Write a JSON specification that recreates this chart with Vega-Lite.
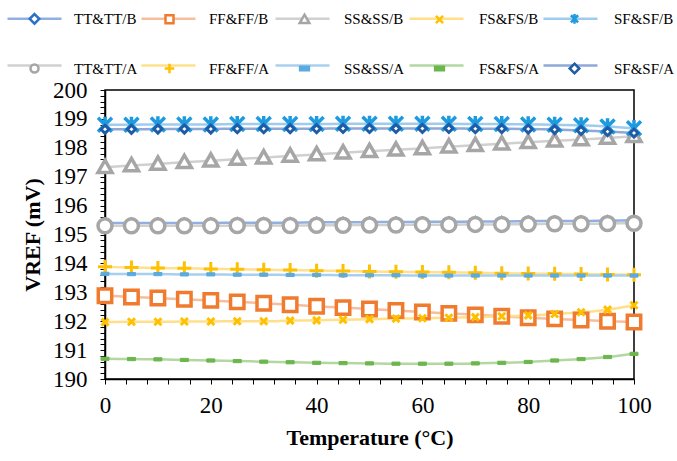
{
  "$schema": "https://vega.github.io/schema/vega-lite/v6.json",
  "width": 529,
  "height": 289,
  "autosize": {"type": "none"},
  "padding": {"left": 105, "top": 90, "right": 43, "bottom": 82},
  "background": "white",
  "data": {"values": [
    {"s":"TT&TT/B","t":0,"v":195.40},{"s":"TT&TT/B","t":5,"v":195.40},{"s":"TT&TT/B","t":10,"v":195.40},{"s":"TT&TT/B","t":15,"v":195.40},{"s":"TT&TT/B","t":20,"v":195.40},{"s":"TT&TT/B","t":25,"v":195.41},{"s":"TT&TT/B","t":30,"v":195.41},{"s":"TT&TT/B","t":35,"v":195.41},{"s":"TT&TT/B","t":40,"v":195.42},{"s":"TT&TT/B","t":45,"v":195.42},{"s":"TT&TT/B","t":50,"v":195.43},{"s":"TT&TT/B","t":55,"v":195.43},{"s":"TT&TT/B","t":60,"v":195.44},{"s":"TT&TT/B","t":65,"v":195.44},{"s":"TT&TT/B","t":70,"v":195.45},{"s":"TT&TT/B","t":75,"v":195.45},{"s":"TT&TT/B","t":80,"v":195.46},{"s":"TT&TT/B","t":85,"v":195.47},{"s":"TT&TT/B","t":90,"v":195.47},{"s":"TT&TT/B","t":95,"v":195.48},{"s":"TT&TT/B","t":100,"v":195.49},
    {"s":"FF&FF/B","t":0,"v":192.88},{"s":"FF&FF/B","t":5,"v":192.84},{"s":"FF&FF/B","t":10,"v":192.80},{"s":"FF&FF/B","t":15,"v":192.76},{"s":"FF&FF/B","t":20,"v":192.72},{"s":"FF&FF/B","t":25,"v":192.67},{"s":"FF&FF/B","t":30,"v":192.62},{"s":"FF&FF/B","t":35,"v":192.57},{"s":"FF&FF/B","t":40,"v":192.52},{"s":"FF&FF/B","t":45,"v":192.47},{"s":"FF&FF/B","t":50,"v":192.42},{"s":"FF&FF/B","t":55,"v":192.37},{"s":"FF&FF/B","t":60,"v":192.32},{"s":"FF&FF/B","t":65,"v":192.27},{"s":"FF&FF/B","t":70,"v":192.22},{"s":"FF&FF/B","t":75,"v":192.17},{"s":"FF&FF/B","t":80,"v":192.12},{"s":"FF&FF/B","t":85,"v":192.08},{"s":"FF&FF/B","t":90,"v":192.04},{"s":"FF&FF/B","t":95,"v":192.00},{"s":"FF&FF/B","t":100,"v":191.97},
    {"s":"SS&SS/B","t":0,"v":197.33},{"s":"SS&SS/B","t":5,"v":197.39},{"s":"SS&SS/B","t":10,"v":197.44},{"s":"SS&SS/B","t":15,"v":197.50},{"s":"SS&SS/B","t":20,"v":197.55},{"s":"SS&SS/B","t":25,"v":197.61},{"s":"SS&SS/B","t":30,"v":197.66},{"s":"SS&SS/B","t":35,"v":197.72},{"s":"SS&SS/B","t":40,"v":197.77},{"s":"SS&SS/B","t":45,"v":197.83},{"s":"SS&SS/B","t":50,"v":197.88},{"s":"SS&SS/B","t":55,"v":197.93},{"s":"SS&SS/B","t":60,"v":197.98},{"s":"SS&SS/B","t":65,"v":198.04},{"s":"SS&SS/B","t":70,"v":198.09},{"s":"SS&SS/B","t":75,"v":198.14},{"s":"SS&SS/B","t":80,"v":198.19},{"s":"SS&SS/B","t":85,"v":198.24},{"s":"SS&SS/B","t":90,"v":198.29},{"s":"SS&SS/B","t":95,"v":198.34},{"s":"SS&SS/B","t":100,"v":198.40},
    {"s":"FS&FS/B","t":0,"v":191.97},{"s":"FS&FS/B","t":5,"v":191.98},{"s":"FS&FS/B","t":10,"v":191.98},{"s":"FS&FS/B","t":15,"v":191.99},{"s":"FS&FS/B","t":20,"v":191.99},{"s":"FS&FS/B","t":25,"v":192.00},{"s":"FS&FS/B","t":30,"v":192.00},{"s":"FS&FS/B","t":35,"v":192.02},{"s":"FS&FS/B","t":40,"v":192.03},{"s":"FS&FS/B","t":45,"v":192.05},{"s":"FS&FS/B","t":50,"v":192.07},{"s":"FS&FS/B","t":55,"v":192.09},{"s":"FS&FS/B","t":60,"v":192.10},{"s":"FS&FS/B","t":65,"v":192.12},{"s":"FS&FS/B","t":70,"v":192.14},{"s":"FS&FS/B","t":75,"v":192.17},{"s":"FS&FS/B","t":80,"v":192.20},{"s":"FS&FS/B","t":85,"v":192.25},{"s":"FS&FS/B","t":90,"v":192.31},{"s":"FS&FS/B","t":95,"v":192.40},{"s":"FS&FS/B","t":100,"v":192.55},
    {"s":"SF&SF/B","t":0,"v":198.80},{"s":"SF&SF/B","t":5,"v":198.80},{"s":"SF&SF/B","t":10,"v":198.81},{"s":"SF&SF/B","t":15,"v":198.81},{"s":"SF&SF/B","t":20,"v":198.81},{"s":"SF&SF/B","t":25,"v":198.82},{"s":"SF&SF/B","t":30,"v":198.82},{"s":"SF&SF/B","t":35,"v":198.82},{"s":"SF&SF/B","t":40,"v":198.82},{"s":"SF&SF/B","t":45,"v":198.83},{"s":"SF&SF/B","t":50,"v":198.83},{"s":"SF&SF/B","t":55,"v":198.83},{"s":"SF&SF/B","t":60,"v":198.83},{"s":"SF&SF/B","t":65,"v":198.83},{"s":"SF&SF/B","t":70,"v":198.82},{"s":"SF&SF/B","t":75,"v":198.82},{"s":"SF&SF/B","t":80,"v":198.81},{"s":"SF&SF/B","t":85,"v":198.80},{"s":"SF&SF/B","t":90,"v":198.78},{"s":"SF&SF/B","t":95,"v":198.74},{"s":"SF&SF/B","t":100,"v":198.68},
    {"s":"TT&TT/A","t":0,"v":195.30},{"s":"TT&TT/A","t":5,"v":195.30},{"s":"TT&TT/A","t":10,"v":195.30},{"s":"TT&TT/A","t":15,"v":195.30},{"s":"TT&TT/A","t":20,"v":195.30},{"s":"TT&TT/A","t":25,"v":195.31},{"s":"TT&TT/A","t":30,"v":195.31},{"s":"TT&TT/A","t":35,"v":195.31},{"s":"TT&TT/A","t":40,"v":195.32},{"s":"TT&TT/A","t":45,"v":195.32},{"s":"TT&TT/A","t":50,"v":195.33},{"s":"TT&TT/A","t":55,"v":195.33},{"s":"TT&TT/A","t":60,"v":195.34},{"s":"TT&TT/A","t":65,"v":195.34},{"s":"TT&TT/A","t":70,"v":195.35},{"s":"TT&TT/A","t":75,"v":195.35},{"s":"TT&TT/A","t":80,"v":195.36},{"s":"TT&TT/A","t":85,"v":195.37},{"s":"TT&TT/A","t":90,"v":195.37},{"s":"TT&TT/A","t":95,"v":195.38},{"s":"TT&TT/A","t":100,"v":195.39},
    {"s":"FF&FF/A","t":0,"v":193.88},{"s":"FF&FF/A","t":5,"v":193.86},{"s":"FF&FF/A","t":10,"v":193.84},{"s":"FF&FF/A","t":15,"v":193.83},{"s":"FF&FF/A","t":20,"v":193.81},{"s":"FF&FF/A","t":25,"v":193.80},{"s":"FF&FF/A","t":30,"v":193.78},{"s":"FF&FF/A","t":35,"v":193.77},{"s":"FF&FF/A","t":40,"v":193.75},{"s":"FF&FF/A","t":45,"v":193.74},{"s":"FF&FF/A","t":50,"v":193.72},{"s":"FF&FF/A","t":55,"v":193.71},{"s":"FF&FF/A","t":60,"v":193.70},{"s":"FF&FF/A","t":65,"v":193.69},{"s":"FF&FF/A","t":70,"v":193.68},{"s":"FF&FF/A","t":75,"v":193.66},{"s":"FF&FF/A","t":80,"v":193.65},{"s":"FF&FF/A","t":85,"v":193.64},{"s":"FF&FF/A","t":90,"v":193.63},{"s":"FF&FF/A","t":95,"v":193.62},{"s":"FF&FF/A","t":100,"v":193.61},
    {"s":"SS&SS/A","t":0,"v":193.64},{"s":"SS&SS/A","t":5,"v":193.63},{"s":"SS&SS/A","t":10,"v":193.63},{"s":"SS&SS/A","t":15,"v":193.62},{"s":"SS&SS/A","t":20,"v":193.62},{"s":"SS&SS/A","t":25,"v":193.61},{"s":"SS&SS/A","t":30,"v":193.61},{"s":"SS&SS/A","t":35,"v":193.60},{"s":"SS&SS/A","t":40,"v":193.60},{"s":"SS&SS/A","t":45,"v":193.59},{"s":"SS&SS/A","t":50,"v":193.59},{"s":"SS&SS/A","t":55,"v":193.59},{"s":"SS&SS/A","t":60,"v":193.58},{"s":"SS&SS/A","t":65,"v":193.58},{"s":"SS&SS/A","t":70,"v":193.58},{"s":"SS&SS/A","t":75,"v":193.58},{"s":"SS&SS/A","t":80,"v":193.58},{"s":"SS&SS/A","t":85,"v":193.58},{"s":"SS&SS/A","t":90,"v":193.58},{"s":"SS&SS/A","t":95,"v":193.58},{"s":"SS&SS/A","t":100,"v":193.58},
    {"s":"FS&FS/A","t":0,"v":190.70},{"s":"FS&FS/A","t":5,"v":190.69},{"s":"FS&FS/A","t":10,"v":190.68},{"s":"FS&FS/A","t":15,"v":190.66},{"s":"FS&FS/A","t":20,"v":190.64},{"s":"FS&FS/A","t":25,"v":190.62},{"s":"FS&FS/A","t":30,"v":190.60},{"s":"FS&FS/A","t":35,"v":190.58},{"s":"FS&FS/A","t":40,"v":190.56},{"s":"FS&FS/A","t":45,"v":190.55},{"s":"FS&FS/A","t":50,"v":190.54},{"s":"FS&FS/A","t":55,"v":190.53},{"s":"FS&FS/A","t":60,"v":190.53},{"s":"FS&FS/A","t":65,"v":190.53},{"s":"FS&FS/A","t":70,"v":190.54},{"s":"FS&FS/A","t":75,"v":190.56},{"s":"FS&FS/A","t":80,"v":190.59},{"s":"FS&FS/A","t":85,"v":190.64},{"s":"FS&FS/A","t":90,"v":190.69},{"s":"FS&FS/A","t":95,"v":190.76},{"s":"FS&FS/A","t":100,"v":190.87},
    {"s":"SF&SF/A","t":0,"v":198.64},{"s":"SF&SF/A","t":5,"v":198.64},{"s":"SF&SF/A","t":10,"v":198.65},{"s":"SF&SF/A","t":15,"v":198.65},{"s":"SF&SF/A","t":20,"v":198.65},{"s":"SF&SF/A","t":25,"v":198.66},{"s":"SF&SF/A","t":30,"v":198.66},{"s":"SF&SF/A","t":35,"v":198.66},{"s":"SF&SF/A","t":40,"v":198.66},{"s":"SF&SF/A","t":45,"v":198.67},{"s":"SF&SF/A","t":50,"v":198.67},{"s":"SF&SF/A","t":55,"v":198.67},{"s":"SF&SF/A","t":60,"v":198.67},{"s":"SF&SF/A","t":65,"v":198.67},{"s":"SF&SF/A","t":70,"v":198.66},{"s":"SF&SF/A","t":75,"v":198.66},{"s":"SF&SF/A","t":80,"v":198.65},{"s":"SF&SF/A","t":85,"v":198.63},{"s":"SF&SF/A","t":90,"v":198.60},{"s":"SF&SF/A","t":95,"v":198.56},{"s":"SF&SF/A","t":100,"v":198.51}
  ]},
  "encoding": {
    "x": {"field": "t", "type": "quantitative",
      "scale": {"domain": [0, 100], "nice": false, "zero": false},
      "axis": {"title": "Temperature (°C)", "values": [0,4,8,12,16,20,24,28,32,36,40,44,48,52,56,60,64,68,72,76,80,84,88,92,96,100],
        "labelExpr": "datum.value % 20 === 0 ? format(datum.value, 'd') : ''",
        "labelOverlap": false, "labelFlush": false, "tickSize": 5, "labelPadding": 10, "titlePadding": 10}},
    "y": {"field": "v", "type": "quantitative",
      "scale": {"domain": [190, 200], "nice": false, "zero": false},
      "axis": {"title": "VREF (mV)", "values": [190,190.2,190.4,190.6,190.8,191,191.2,191.4,191.6,191.8,192,192.2,192.4,192.6,192.8,193,193.2,193.4,193.6,193.8,194,194.2,194.4,194.6,194.8,195,195.2,195.4,195.6,195.8,196,196.2,196.4,196.6,196.8,197,197.2,197.4,197.6,197.8,198,198.2,198.4,198.6,198.8,199,199.2,199.4,199.6,199.8,200],
        "labelExpr": "abs(datum.value - round(datum.value)) < 0.001 ? format(datum.value, 'd') : ''",
        "labelOverlap": false, "labelFlush": false, "tickSize": 5, "labelPadding": 13, "titlePadding": 8}}
  },
  "layer": [
    {
      "mark": {"type": "line", "strokeWidth": 2.5, "interpolate": "monotone"},
      "encoding": {
        "color": {"field": "s", "type": "nominal", "legend": null,
          "scale": {"domain": ["TT&TT/B","FF&FF/B","SS&SS/B","FS&FS/B","SF&SF/B","TT&TT/A","FF&FF/A","SS&SS/A","FS&FS/A","SF&SF/A"],
            "range": ["#8FB0E0","#F6BE9E","#D0D0D0","#FFDF8A","#9FCCEE","#D0D0D0","#FFE08C","#A8D0EE","#B2D8A0","#8EA8D8"]}}
      }
    },
    {
      "mark": {"type": "point", "filled": true, "opacity": 1},
      "encoding": {
        "shape": {"field": "s", "type": "nominal", "legend": null,
          "scale": {"domain": ["TT&TT/B","FF&FF/B","SS&SS/B","FS&FS/B","SF&SF/B","TT&TT/A","FF&FF/A","SS&SS/A","FS&FS/A","SF&SF/A"],
            "range": ["M0,-1L1,0L0,1L-1,0Z","M-1,-1L1,-1L1,1L-1,1Z","M0,-1L1,0.75L-1,0.75Z","M-1,-1L1,1M-1,1L1,-1","M-1,-1L1,1M-1,1L1,-1M0,-1.15L0,1.15","circle","M-1,0L1,0M0,-1L0,1","M-1,-0.4L1,-0.4L1,0.4L-1,0.4Z","M-1,-0.4L1,-0.4L1,0.4L-1,0.4Z","M0,-1L1,0L0,1L-1,0Z"]}},
        "stroke": {"field": "s", "type": "nominal", "legend": null,
          "scale": {"domain": ["TT&TT/B","FF&FF/B","SS&SS/B","FS&FS/B","SF&SF/B","TT&TT/A","FF&FF/A","SS&SS/A","FS&FS/A","SF&SF/A"],
            "range": ["#2A6FC9","#F07B2F","#A6A6A6","#FFC000","#1E9BDF","#A6A6A6","#FFC000","#5BAAE0","#6CB64E","#1F5CA5"]}},
        "fill": {"field": "s", "type": "nominal", "legend": null,
          "scale": {"domain": ["TT&TT/B","FF&FF/B","SS&SS/B","FS&FS/B","SF&SF/B","TT&TT/A","FF&FF/A","SS&SS/A","FS&FS/A","SF&SF/A"],
            "range": ["white","white","white","#FFC000","#1E9BDF","white","#FFC000","#5BAAE0","#6CB64E","white"]}},
        "size": {"field": "s", "type": "nominal", "legend": null,
          "scale": {"type": "ordinal", "domain": ["TT&TT/B","FF&FF/B","SS&SS/B","FS&FS/B","SF&SF/B","TT&TT/A","FF&FF/A","SS&SS/A","FS&FS/A","SF&SF/A"],
            "range": [64,180,196,49,196,196,196,64,64,64]}},
        "strokeWidth": {"field": "s", "type": "nominal", "legend": null,
          "scale": {"type": "ordinal", "domain": ["TT&TT/B","FF&FF/B","SS&SS/B","FS&FS/B","SF&SF/B","TT&TT/A","FF&FF/A","SS&SS/A","FS&FS/A","SF&SF/A"],
            "range": [3,3.5,3.5,3,3.5,3.5,3,1,1,3]}}
      }
    },
    {
      "transform": [{"filter": "false"}],
      "mark": {"type": "point", "filled": false, "opacity": 1},
      "encoding": {
        "stroke": {"field": "s", "type": "nominal",
          "scale": {"domain": ["TT&TT/B","FF&FF/B","SS&SS/B","FS&FS/B","SF&SF/B","TT&TT/A","FF&FF/A","SS&SS/A","FS&FS/A","SF&SF/A"],
            "range": ["#8FB0E0","#F6BE9E","#D0D0D0","#FFDF8A","#9FCCEE","#D0D0D0","#FFE08C","#A8D0EE","#B2D8A0","#8EA8D8"]},
          "legend": {"orient": "none", "direction": "horizontal", "legendX": -80, "legendY": -81, "columns": 5, "gridAlign": "all",
            "columnPadding": 62, "rowPadding": 29, "symbolSize": 256, "symbolStrokeWidth": 2.5,
            "symbolType": "M-3.375,0L3.375,0", "labelOffset": 30, "labelFont": "Liberation Serif", "labelFontSize": 15,
            "labelColor": "black", "labelExpr": "''", "labelLimit": 0, "title": null, "padding": 0}}
      }
    },
    {
      "transform": [{"filter": "false"}],
      "mark": {"type": "point", "filled": true, "opacity": 1},
      "encoding": {
        "stroke": {"field": "s", "type": "nominal",
          "scale": {"domain": ["TT&TT/B","FF&FF/B","SS&SS/B","FS&FS/B","SF&SF/B","TT&TT/A","FF&FF/A","SS&SS/A","FS&FS/A","SF&SF/A"],
            "range": ["#2A6FC9","#F07B2F","#A6A6A6","#FFC000","#1E9BDF","#A6A6A6","#FFC000","#5BAAE0","#6CB64E","#1F5CA5"]},
          "legend": {"orient": "none", "direction": "horizontal", "legendX": -80, "legendY": -81, "columns": 5, "gridAlign": "all",
            "columnPadding": -1, "rowPadding": 29, "symbolSize": 256, "symbolStrokeWidth": 2.5,
            "labelOffset": 30, "labelFont": "Liberation Serif", "labelFontSize": 15,
            "labelColor": "black", "labelLimit": 0, "title": null, "padding": 0}},
        "fill": {"field": "s", "type": "nominal",
          "scale": {"domain": ["TT&TT/B","FF&FF/B","SS&SS/B","FS&FS/B","SF&SF/B","TT&TT/A","FF&FF/A","SS&SS/A","FS&FS/A","SF&SF/A"],
            "range": ["white","white","white","#FFC000","#1E9BDF","white","#FFC000","#5BAAE0","#6CB64E","white"]}},
        "shape": {"field": "s", "type": "nominal",
          "scale": {"domain": ["TT&TT/B","FF&FF/B","SS&SS/B","FS&FS/B","SF&SF/B","TT&TT/A","FF&FF/A","SS&SS/A","FS&FS/A","SF&SF/A"],
            "range": ["M-3.375,0M3.375,0M0,-0.6L0.6,0L0,0.6L-0.6,0Z","M-3.375,0M3.375,0M-0.5,-0.5L0.5,-0.5L0.5,0.5L-0.5,0.5Z","M-3.375,0M3.375,0M0,-0.6L0.6,0.45L-0.6,0.45Z","M-3.375,0M3.375,0M-0.45,-0.45L0.45,0.45M-0.45,0.45L0.45,-0.45","M-3.375,0M3.375,0M-0.45,-0.45L0.45,0.45M-0.45,0.45L0.45,-0.45M0,-0.6L0,0.6","M-3.375,0M3.375,0M0.5,0A0.5,0.5,0,1,1,-0.5,0A0.5,0.5,0,1,1,0.5,0Z","M-3.375,0M3.375,0M-0.6,0L0.6,0M0,-0.6L0,0.6","M-3.375,0M3.375,0M-0.55,-0.22L0.55,-0.22L0.55,0.22L-0.55,0.22Z","M-3.375,0M3.375,0M-0.55,-0.22L0.55,-0.22L0.55,0.22L-0.55,0.22Z","M-3.375,0M3.375,0M0,-0.6L0.6,0L0,0.6L-0.6,0Z"]}}
      }
    }
  ],
  "resolve": {"scale": {"color": "independent", "stroke": "independent", "fill": "independent", "shape": "independent", "size": "independent", "strokeWidth": "independent"}},
  "config": {
    "view": {"stroke": "black", "strokeWidth": 1.5},
    "axis": {"labelFont": "Liberation Serif", "labelFontSize": 23, "labelColor": "black",
      "titleFont": "Liberation Serif", "titleFontSize": 22, "titleFontWeight": "bold", "titleColor": "black",
      "domainColor": "black", "domainWidth": 1.5, "tickColor": "black", "tickWidth": 1, "grid": false}
  }
}
